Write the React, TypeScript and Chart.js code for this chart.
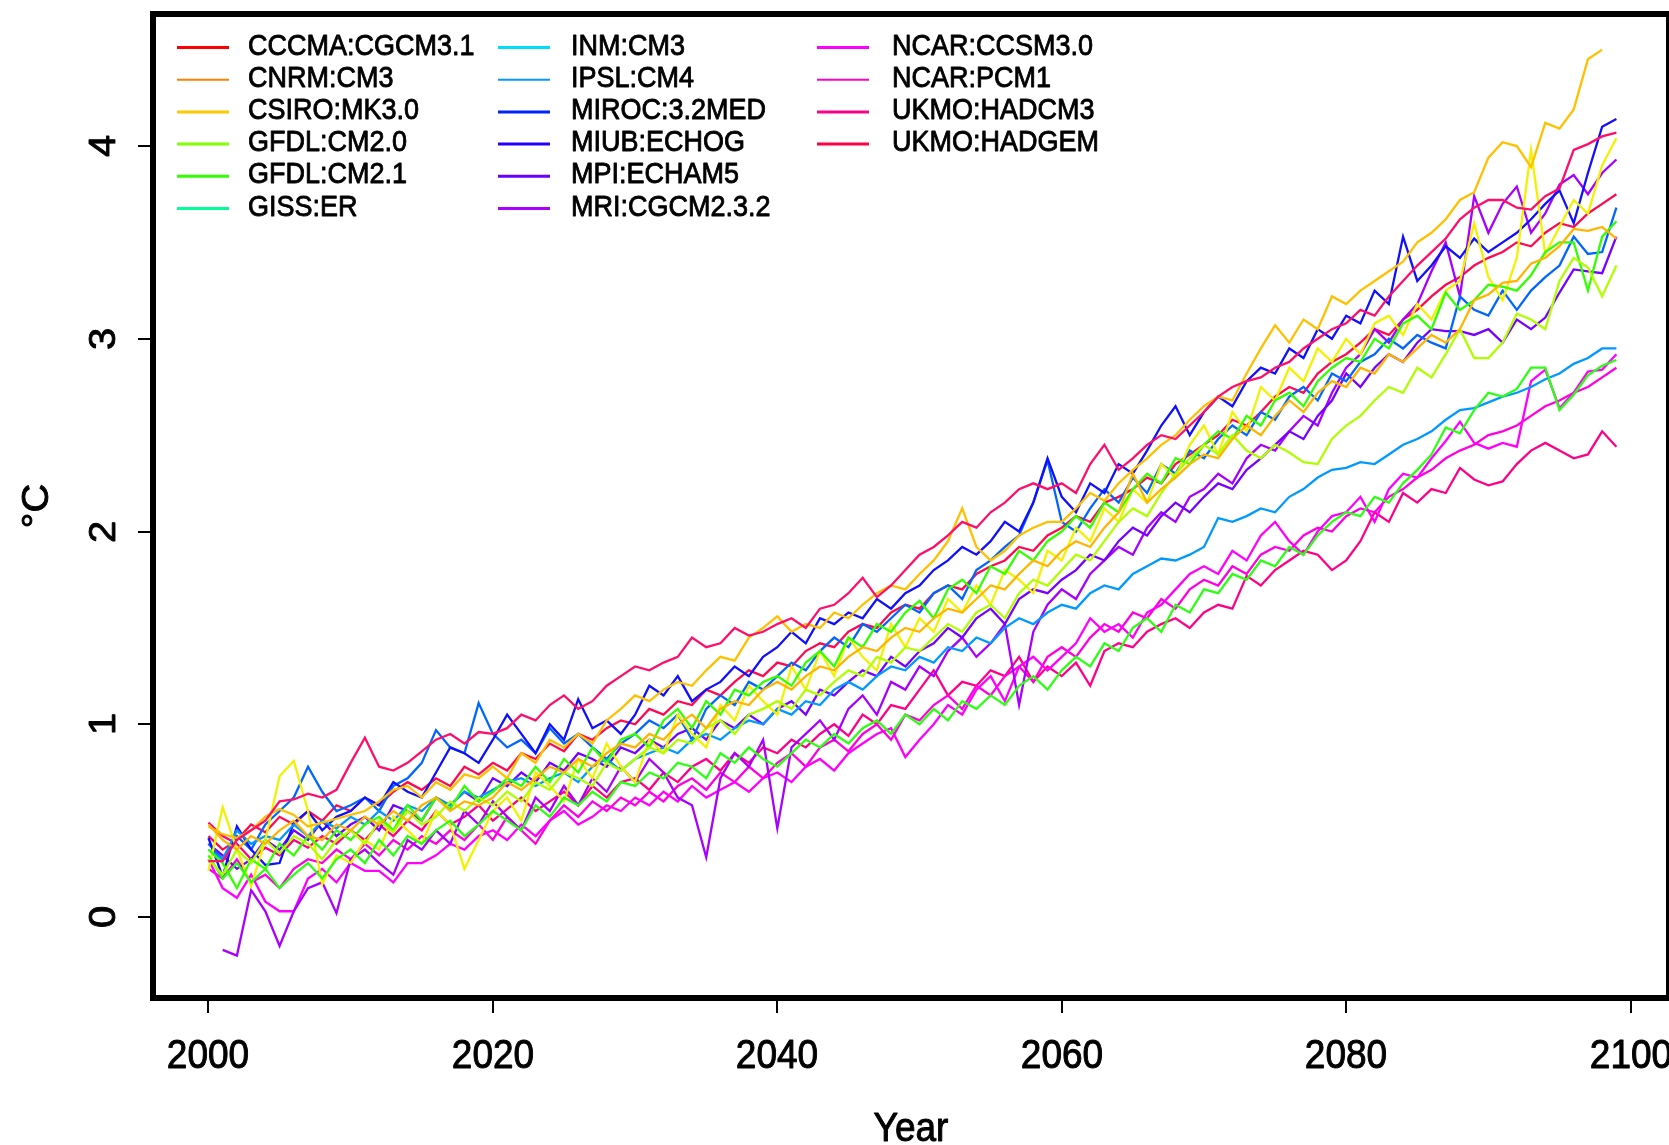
import React, { useEffect, useRef } from "react";
import { Chart, registerables } from "chart.js";

Chart.register(...registerables);

// Annual global-mean temperature change (°C) under the A2 scenario, 2000-2099
const YEARS = Array.from({ length: 100 }, (_, i) => 2000 + i);

const CCCMA_CGCM31 = [
  0.29, 0.29, 0.40, 0.45, 0.50, 0.60, 0.61, 0.64, 0.62, 0.66,
  0.80, 0.93, 0.78, 0.76, 0.80, 0.86, 0.92, 0.95, 0.90, 0.96,
  0.95, 0.98, 1.05, 1.02, 1.10, 1.15, 1.08, 1.12, 1.20, 1.25,
  1.30, 1.28, 1.32, 1.35, 1.45, 1.40, 1.42, 1.50, 1.46, 1.48,
  1.52, 1.55, 1.50, 1.60, 1.62, 1.68, 1.76, 1.66, 1.72, 1.80,
  1.88, 1.92, 1.98, 2.05, 2.02, 2.10, 2.15, 2.22, 2.25, 2.22,
  2.25, 2.20, 2.35, 2.45, 2.32, 2.38, 2.45, 2.50, 2.48, 2.55,
  2.62, 2.70, 2.75, 2.78, 2.80, 2.85, 2.88, 2.95, 3.00, 3.05,
  3.08, 3.15, 3.12, 3.22, 3.30, 3.38, 3.45, 3.52, 3.62, 3.68,
  3.72, 3.72, 3.68, 3.67, 3.74, 3.78, 3.98, 4.01, 4.05, 4.07,
];

const CNRM_CM3 = [
  0.48, 0.40, 0.35, 0.42, 0.38, 0.45, 0.50, 0.42, 0.40, 0.48,
  0.45, 0.52, 0.48, 0.55, 0.50, 0.58, 0.62, 0.55, 0.60, 0.58,
  0.62, 0.70, 0.66, 0.72, 0.78, 0.75, 0.82, 0.78, 0.85, 0.90,
  0.88, 0.95, 0.92, 1.00, 1.05, 0.98, 1.08, 1.12, 1.10, 1.18,
  1.22, 1.18, 1.25, 1.30, 1.28, 1.35, 1.40, 1.38, 1.45, 1.50,
  1.48, 1.55, 1.60, 1.58, 1.65, 1.72, 1.70, 1.78, 1.85, 1.82,
  1.90, 1.95, 1.92, 2.02, 2.10, 2.30, 2.15, 2.22, 2.28, 2.35,
  2.40, 2.38, 2.48, 2.55, 2.50, 2.60, 2.68, 2.62, 2.72, 2.78,
  2.75, 2.85, 2.82, 2.92, 2.88, 2.95, 3.02, 2.98, 3.05, 3.20,
  3.23, 3.29, 3.30, 3.39, 3.42, 3.48, 3.57, 3.56, 3.58, 3.52,
];

const CSIRO_MK30 = [
  0.47, 0.43, 0.41, 0.45, 0.52, 0.56, 0.53, 0.47, 0.49, 0.51,
  0.53, 0.55, 0.60, 0.66, 0.68, 0.62, 0.70, 0.66, 0.74, 0.72,
  0.78, 0.72, 0.85, 0.80, 0.92, 0.88, 0.95, 0.90, 1.02, 1.08,
  1.15, 1.12, 1.18, 1.22, 1.20, 1.28, 1.35, 1.33, 1.45, 1.50,
  1.56, 1.48, 1.52, 1.50, 1.58, 1.55, 1.62, 1.68, 1.72, 1.70,
  1.78, 1.85, 1.95, 2.12, 1.92, 1.85, 1.90, 1.98, 2.02, 2.05,
  2.05, 2.12, 2.20, 2.16, 2.25, 2.32, 2.38, 2.45, 2.50, 2.58,
  2.65, 2.70, 2.68, 2.82, 2.95, 3.07, 2.98, 3.10, 3.05, 3.22,
  3.18, 3.25, 3.30, 3.35, 3.40, 3.50, 3.55, 3.62, 3.72, 3.76,
  3.94, 4.02, 4.00, 3.89, 4.12, 4.09, 4.19, 4.45, 4.50, null,
];

const GFDL_CM20 = [
  0.30, 0.22, 0.35, 0.28, 0.40, 0.33, 0.42, 0.38, 0.30, 0.40,
  0.45, 0.38, 0.50, 0.44, 0.55, 0.48, 0.52, 0.60, 0.55, 0.62,
  0.58, 0.65, 0.60, 0.70, 0.66, 0.75, 0.72, 0.68, 0.80, 0.76,
  0.82, 0.88, 0.85, 0.92, 0.90, 0.98, 1.02, 0.95, 1.05, 1.08,
  1.12, 1.08, 1.18, 1.15, 1.22, 1.28, 1.25, 1.35, 1.32, 1.40,
  1.38, 1.45, 1.52, 1.48, 1.58, 1.62, 1.55, 1.68, 1.75, 1.72,
  1.80, 1.88, 1.85, 1.95, 2.05, 2.12, 2.08, 2.20, 2.30, 2.38,
  2.45, 2.40, 2.50, 2.42, 2.38, 2.45, 2.41, 2.36, 2.35, 2.48,
  2.55, 2.60, 2.68, 2.75, 2.72, 2.85, 2.80, 2.92, 3.05, 2.90,
  2.90, 2.98, 3.13, 3.10, 3.05, 3.30, 3.42, 3.37, 3.22, 3.38,
];

const GFDL_CM21 = [
  0.35, 0.28, 0.15, 0.30, 0.25, 0.38, 0.32, 0.42, 0.35, 0.45,
  0.40, 0.48, 0.52, 0.45, 0.58, 0.50, 0.62, 0.56, 0.68, 0.60,
  0.65, 0.72, 0.68, 0.78, 0.70, 0.82, 0.75, 0.88, 0.80, 0.92,
  0.95, 0.88, 1.02, 1.08, 0.98, 1.12, 1.05, 1.18, 1.15, 1.22,
  1.25, 1.20, 1.32, 1.38, 1.30, 1.45, 1.40, 1.52, 1.48, 1.58,
  1.64, 1.55, 1.70, 1.75, 1.68, 1.82, 1.78, 1.90, 1.85, 1.95,
  2.00, 2.08, 2.02, 2.15, 2.10, 2.22, 2.30, 2.25, 2.38, 2.35,
  2.45, 2.52, 2.48, 2.60, 2.55, 2.68, 2.72, 2.65, 2.78, 2.85,
  2.90, 2.88, 3.00, 2.95, 3.08, 3.12, 3.05, 3.24, 3.15, 3.20,
  3.28, 3.27, 3.25, 3.33, 3.45, 3.50, 3.50, 3.25, 3.53, 3.61,
];

const GISS_ER = [
  0.32, 0.20, 0.28, 0.18, 0.25, 0.15, 0.22, 0.28, 0.20, 0.30,
  0.35, 0.28, 0.40, 0.32, 0.42, 0.38, 0.45, 0.50, 0.42, 0.48,
  0.55, 0.50, 0.45, 0.58, 0.52, 0.62, 0.58, 0.65, 0.60, 0.70,
  0.68, 0.75, 0.72, 0.80, 0.78, 0.72, 0.85, 0.80, 0.88, 0.82,
  0.78, 0.85, 0.92, 0.88, 0.95, 0.90, 0.98, 1.02, 0.95, 1.05,
  1.00, 1.08, 1.02, 1.12, 1.08, 1.15, 1.10, 1.20, 1.25, 1.18,
  1.28, 1.35, 1.30, 1.42, 1.38, 1.50, 1.55, 1.48, 1.62, 1.58,
  1.70, 1.68, 1.78, 1.75, 1.85, 1.82, 1.92, 1.88, 1.98, 2.05,
  2.10, 2.08, 2.18, 2.15, 2.25, 2.32, 2.40, 2.54, 2.51, 2.63,
  2.72, 2.70, 2.74, 2.85, 2.85, 2.63, 2.71, 2.81, 2.86, 2.89,
];

const INM_CM3 = [
  0.24, 0.57, 0.35, 0.16, 0.40, 0.73, 0.81, 0.55, 0.17, 0.32,
  0.28, 0.40, 0.35, 0.52, 0.45, 0.38, 0.55, 0.48, 0.25, 0.40,
  0.55, 0.62, 0.50, 0.75, 0.68, 0.60, 0.82, 0.72, 0.90, 0.78,
  0.70, 0.92, 0.85, 1.05, 0.95, 0.88, 1.10, 1.02, 1.20, 1.12,
  1.05, 1.30, 1.18, 1.38, 1.25, 1.45, 1.35, 1.28, 1.52, 1.40,
  1.55, 1.48, 1.65, 1.58, 1.72, 1.62, 1.80, 1.75, 1.68, 1.90,
  1.85, 2.02, 1.95, 2.12, 2.05, 2.22, 2.15, 2.35, 2.28, 2.45,
  2.55, 2.40, 2.62, 2.52, 2.75, 2.68, 2.85, 2.78, 2.95, 2.88,
  3.00, 2.92, 3.08, 3.12, 3.02, 3.18, 3.10, 3.25, 3.30, 3.60,
  3.32, 3.20, 3.42, 3.98, 3.44, 3.58, 3.72, 3.65, 3.90, 4.04,
];

const IPSL_CM4 = [
  0.35, 0.30, 0.45, 0.38, 0.42, 0.40, 0.48, 0.42, 0.50, 0.46,
  0.52, 0.48, 0.55, 0.50, 0.58, 0.55, 0.62, 0.58, 0.65, 0.62,
  0.66, 0.70, 0.72, 0.68, 0.72, 0.75, 0.70, 0.78, 0.82, 0.76,
  0.82, 0.85, 0.88, 0.85, 0.92, 0.95, 0.92, 0.98, 1.02, 1.00,
  1.08, 1.05, 1.12, 1.10, 1.18, 1.22, 1.18, 1.25, 1.30, 1.28,
  1.35, 1.32, 1.40, 1.38, 1.45, 1.42, 1.50, 1.55, 1.52, 1.58,
  1.62, 1.60, 1.68, 1.72, 1.70, 1.78, 1.82, 1.86, 1.85, 1.88,
  1.92, 2.07, 2.05, 2.08, 2.12, 2.10, 2.18, 2.22, 2.28, 2.32,
  2.33, 2.36, 2.35, 2.40, 2.45, 2.48, 2.52, 2.58, 2.63, 2.64,
  2.67, 2.70, 2.72, 2.75, 2.79, 2.82, 2.87, 2.90, 2.95, 2.95,
];

const MIROC_32MED = [
  0.41, 0.21, 0.47, 0.35, 0.27, 0.28, 0.49, 0.55, 0.45, 0.52,
  0.55, 0.62, 0.58, 0.70, 0.65, 0.62, 0.75, 0.88, 0.85, 0.80,
  0.92, 1.05, 0.95, 0.85, 1.00, 0.92, 1.13, 0.98, 1.02, 0.95,
  1.05, 1.20, 1.15, 1.25, 1.12, 1.18, 1.22, 1.30, 1.25, 1.35,
  1.40, 1.48, 1.42, 1.55, 1.52, 1.58, 1.55, 1.65, 1.60, 1.68,
  1.72, 1.80, 1.85, 1.92, 1.88, 1.95, 2.05, 2.00, 2.15, 2.38,
  2.18, 2.10, 2.25, 2.20, 2.35, 2.30, 2.42, 2.55, 2.65, 2.50,
  2.62, 2.70, 2.65, 2.78, 2.85, 2.82, 2.95, 2.90, 3.05, 3.00,
  3.12, 3.08, 3.25, 3.18, 3.53, 3.30, 3.38, 3.48, 3.42, 3.52,
  3.45, 3.50, 3.55, 3.62, 3.70, 3.77, 3.60, 3.86, 4.10, 4.14,
];

const MIUB_ECHOG = [
  0.38, 0.30, 0.42, 0.35, 0.48, 0.55, 0.62, 0.78, 0.65, 0.55,
  0.58, 0.62, 0.55, 0.68, 0.72, 0.80, 0.97, 0.88, 0.85, 1.11,
  0.95, 0.88, 0.92, 0.85, 0.98, 0.90, 0.95, 0.88, 0.82, 0.90,
  0.95, 1.02, 0.98, 1.05, 0.92, 1.08, 1.15, 1.10, 1.22, 1.18,
  1.25, 1.32, 1.28, 1.38, 1.45, 1.40, 1.52, 1.48, 1.55, 1.62,
  1.58, 1.68, 1.72, 1.65, 1.80, 1.85, 1.92, 1.98, 2.15, 2.37,
  2.05, 2.00, 2.12, 2.22, 2.15, 2.28, 2.20, 2.35, 2.30, 2.42,
  2.38, 2.48, 2.55, 2.50, 2.62, 2.58, 2.70, 2.75, 2.68, 2.82,
  2.78, 2.88, 2.92, 3.00, 2.95, 3.02, 2.98, 2.95, 3.22, 3.15,
  3.12, 3.25, 3.15, 3.25, 3.32, 3.38, 3.53, 3.44, 3.45, 3.68,
];

const MPI_ECHAM5 = [
  0.38, 0.32, 0.25, 0.30, 0.40, 0.35, 0.45, 0.40, 0.50, 0.42,
  0.48, 0.52, 0.45, 0.58, 0.55, 0.50, 0.62, 0.58, 0.65, 0.60,
  0.72, 0.68, 0.75, 0.70, 0.80, 0.76, 0.85, 0.82, 0.78, 0.88,
  0.85, 0.92, 0.88, 0.95, 0.98, 0.92, 1.02, 0.98, 1.05, 1.00,
  1.08, 1.12, 1.05, 1.18, 1.15, 1.22, 1.28, 1.25, 1.35, 1.30,
  1.38, 1.42, 1.50, 1.45, 1.55, 1.60, 1.52, 1.65, 1.70, 1.68,
  1.75, 1.80, 1.88, 1.85, 1.95, 2.02, 1.98, 2.08, 2.15, 2.10,
  2.18, 2.25, 2.22, 2.32, 2.38, 2.45, 2.52, 2.48, 2.60, 2.68,
  2.82, 2.75, 2.85, 2.92, 2.88, 2.98, 3.05, 3.04, 3.04, 3.02,
  3.05, 2.98, 3.10, 3.05, 3.11, 3.24, 3.36, 3.35, 3.34, 3.53,
];

const MRI_CGCM232 = [
  null, -0.17, -0.20, 0.14, 0.03, -0.15, 0.03, 0.15, 0.18, 0.02,
  0.30, 0.35, 0.28, 0.22, 0.40, 0.35, 0.45, 0.38, 0.55, 0.48,
  0.60, 0.52, 0.45, 0.62, 0.55, 0.68, 0.58, 0.72, 0.65, 0.78,
  0.70, 0.82, 0.75, 0.62, 0.58, 0.31, 0.72, 0.85, 0.78, 0.92,
  0.46, 0.88, 0.95, 1.02, 0.92, 1.08, 1.15, 1.05, 1.22, 1.18,
  1.30, 1.25, 1.38, 1.45, 1.35, 1.42, 1.52, 1.10, 1.48, 1.62,
  1.70, 1.65, 1.78, 1.85, 1.92, 1.88, 2.02, 2.10, 2.05, 2.18,
  2.22, 2.30, 2.25, 2.38, 2.45, 2.42, 2.52, 2.60, 2.55, 2.72,
  2.85, 2.92, 3.05, 2.98, 3.10, 3.18, 3.35, 3.50, 3.22, 3.74,
  3.55, 3.70, 3.79, 3.55, 3.65, 3.80, 3.85, 3.75, 3.86, 3.93,
];

const NCAR_CCSM30 = [
  0.30, 0.15, 0.10, 0.22, 0.08, 0.03, 0.03, 0.20, 0.25, 0.18,
  0.28, 0.24, 0.24, 0.18, 0.28, 0.28, 0.32, 0.38, 0.35, 0.42,
  0.45, 0.40, 0.48, 0.42, 0.50, 0.55, 0.48, 0.52, 0.58, 0.55,
  0.62, 0.58, 0.65, 0.60, 0.68, 0.62, 0.66, 0.70, 0.65, 0.72,
  0.75, 0.70, 0.78, 0.82, 0.76, 0.85, 0.90, 0.95, 0.98, 0.83,
  0.92, 1.00, 1.10, 1.05, 1.18, 1.25, 1.12, 1.30, 1.35, 1.28,
  1.35, 1.42, 1.55, 1.48, 1.52, 1.45, 1.58, 1.62, 1.70, 1.78,
  1.82, 1.78, 1.90, 1.85, 1.98, 2.05, 1.95, 1.88, 2.00, 2.08,
  2.10, 2.18, 2.05, 2.22, 2.30, 2.28, 2.38, 2.47, 2.57, 2.46,
  2.43, 2.46, 2.44, 2.78, 2.84, 2.64, 2.72, 2.83, 2.84, 2.92,
];

const NCAR_PCM1 = [
  0.25, 0.20, 0.30, 0.18, 0.22, 0.15, 0.25, 0.30, 0.28, 0.35,
  0.30, 0.38, 0.32, 0.40, 0.35, 0.42, 0.38, 0.45, 0.40, 0.48,
  0.40, 0.52, 0.45, 0.38, 0.50, 0.58, 0.52, 0.60, 0.55, 0.62,
  0.58, 0.65, 0.60, 0.68, 0.72, 0.66, 0.75, 0.70, 0.78, 0.72,
  0.80, 0.85, 0.78, 0.88, 0.92, 0.86, 0.95, 1.00, 0.92, 1.05,
  1.02, 1.10, 1.15, 1.08, 1.20, 1.15, 1.25, 1.30, 1.22, 1.35,
  1.40, 1.35, 1.45, 1.52, 1.48, 1.58, 1.55, 1.65, 1.60, 1.70,
  1.75, 1.72, 1.82, 1.78, 1.88, 1.92, 1.90, 1.98, 2.02, 2.00,
  2.08, 2.12, 2.10, 2.18, 2.22, 2.28, 2.32, 2.38, 2.42, 2.45,
  2.50, 2.52, 2.55, 2.60, 2.65, 2.68, 2.72, 2.75, 2.80, 2.85,
];

const UKMO_HADCM3 = [
  0.49, 0.42, 0.38, 0.30, 0.36, 0.32, 0.40, 0.36, 0.42, 0.38,
  0.45, 0.40, 0.48, 0.42, 0.50, 0.45, 0.55, 0.48, 0.52, 0.58,
  0.50, 0.56, 0.62, 0.55, 0.60, 0.65, 0.58, 0.68, 0.62, 0.70,
  0.72, 0.66, 0.75, 0.70, 0.78, 0.82, 0.76, 0.85, 0.80, 0.88,
  0.85, 0.92, 0.88, 0.95, 1.00, 0.94, 1.05, 1.00, 1.10, 1.08,
  1.18, 1.28, 1.15, 1.22, 1.20, 1.28, 1.25, 1.35, 1.22, 1.30,
  1.25, 1.32, 1.20, 1.38, 1.42, 1.40, 1.48, 1.52, 1.55, 1.50,
  1.58, 1.62, 1.60, 1.77, 1.72, 1.80, 1.85, 1.90, 1.88, 1.80,
  1.85, 1.95, 2.10, 2.05, 2.20, 2.15, 2.22, 2.20, 2.33, 2.27,
  2.24, 2.26, 2.35, 2.42, 2.46, 2.42, 2.38, 2.40, 2.52, 2.44,
];

const UKMO_HADGEM = [
  0.42, 0.35, 0.40, 0.48, 0.44, 0.52, 0.48, 0.55, 0.50, 0.58,
  0.55, 0.62, 0.58, 0.65, 0.70, 0.66, 0.72, 0.68, 0.78, 0.74,
  0.80, 0.76, 0.85, 0.82, 0.90, 0.86, 0.95, 0.92, 0.98, 1.02,
  1.00, 1.08, 1.05, 1.12, 1.10, 1.18, 1.15, 1.22, 1.28, 1.25,
  1.32, 1.30, 1.38, 1.42, 1.40, 1.48, 1.52, 1.50, 1.58, 1.62,
  1.60, 1.68, 1.72, 1.70, 1.78, 1.82, 1.85, 1.92, 1.90, 1.98,
  2.02, 2.08, 2.05, 2.15, 2.18, 2.22, 2.28, 2.25, 2.35, 2.40,
  2.45, 2.50, 2.58, 2.55, 2.62, 2.70, 2.75, 2.72, 2.82, 2.88,
  2.92, 2.98, 3.05, 3.02, 3.10, 3.15, 3.22, 3.28, 3.32, 3.38,
  3.42, 3.45, 3.50, 3.48, 3.55, 3.60, 3.58, 3.65, 3.70, 3.75,
];

const MODEL_NAMES = [
  "CCCMA:CGCM3.1", "CNRM:CM3", "CSIRO:MK3.0", "GFDL:CM2.0", "GFDL:CM2.1", "GISS:ER",
  "INM:CM3", "IPSL:CM4", "MIROC:3.2MED", "MIUB:ECHOG", "MPI:ECHAM5", "MRI:CGCM2.3.2",
  "NCAR:CCSM3.0", "NCAR:PCM1", "UKMO:HADCM3", "UKMO:HADGEM",
];

const MODEL_SERIES = [
  CCCMA_CGCM31, CNRM_CM3, CSIRO_MK30, GFDL_CM20, GFDL_CM21, GISS_ER,
  INM_CM3, IPSL_CM4, MIROC_32MED, MIUB_ECHOG, MPI_ECHAM5, MRI_CGCM232,
  NCAR_CCSM30, NCAR_PCM1, UKMO_HADCM3, UKMO_HADGEM,
];

const LINE_COLORS = [
  "#FF0F6A", "#FFB400", "#FFC000", "#B0FF00", "#33FF00", "#2CFF14",
  "#F2F200", "#0099FF", "#1010FF", "#0066FF", "#7700FF", "#A800FF",
  "#FF00FF", "#FF00E0", "#FF0088", "#FF0A50",
];

const LEGEND_COLORS = [
  "#FF0000", "#FF8000", "#FFC800", "#7FFF00", "#33FF00", "#00FF99",
  "#00DDFF", "#0099FF", "#0022FF", "#2200FF", "#6600FF", "#AA00FF",
  "#FF00FF", "#FF00CC", "#FF0088", "#FF0044",
];

const X_TICKS = [2000, 2020, 2040, 2060, 2080, 2100];
const Y_TICKS = [0, 1, 2, 3, 4];
const X_TITLE = "Year";
const Y_TITLE = "°C";

const FONT = '"Liberation Sans", Arial, sans-serif';
const STRETCH = 1.08;

// filled text with a thin outline so the glyphs read a little heavier
function heavyText(ctx: CanvasRenderingContext2D, s: string, w: number) {
  ctx.lineWidth = w;
  ctx.strokeStyle = "#000";
  ctx.lineJoin = "round";
  ctx.strokeText(s, 0, 0);
  ctx.fillText(s, 0, 0);
}

const frameAndText = {
  id: "frameAndText",
  afterDraw(chart: any) {
    const ctx: CanvasRenderingContext2D = chart.ctx;
    const area = chart.chartArea;
    const xs = chart.scales.x;
    const ys = chart.scales.y;
    ctx.save();
    ctx.fillStyle = "#000";
    ctx.strokeStyle = "#000";

    // plot box
    ctx.lineWidth = 6;
    ctx.strokeRect(area.left, area.top, area.right - area.left, area.bottom - area.top);

    // x axis ticks and labels
    ctx.font = `37px ${FONT}`;
    ctx.textAlign = "center";
    ctx.textBaseline = "alphabetic";
    X_TICKS.forEach((t) => {
      const px = Math.round(xs.getPixelForValue(t));
      ctx.lineWidth = 2;
      ctx.strokeStyle = "#000";
      ctx.beginPath();
      ctx.moveTo(px, area.bottom + 3);
      ctx.lineTo(px, area.bottom + 15);
      ctx.stroke();
      ctx.save();
      ctx.translate(px, 1068);
      ctx.scale(1, STRETCH);
      heavyText(ctx, String(t), 0.9);
      ctx.restore();
    });

    // y axis ticks and rotated labels
    Y_TICKS.forEach((t) => {
      const py = Math.round(ys.getPixelForValue(t));
      ctx.lineWidth = 2;
      ctx.strokeStyle = "#000";
      ctx.beginPath();
      ctx.moveTo(area.left - 15, py);
      ctx.lineTo(area.left - 3, py);
      ctx.stroke();
      ctx.save();
      ctx.translate(115, py);
      ctx.scale(1, STRETCH);
      ctx.rotate(-Math.PI / 2);
      heavyText(ctx, String(t), 0.9);
      ctx.restore();
    });

    // axis titles
    ctx.save();
    ctx.translate((area.left + area.right) / 2, 1141);
    ctx.scale(1, STRETCH);
    heavyText(ctx, X_TITLE, 0.9);
    ctx.restore();

    ctx.save();
    ctx.translate(48, (area.top + area.bottom) / 2);
    ctx.scale(1, STRETCH);
    ctx.rotate(-Math.PI / 2);
    heavyText(ctx, Y_TITLE, 0.9);
    ctx.restore();

    // legend: three columns of six rows
    const lineX = [177, 498, 817];
    const textX = [248, 571, 892];
    ctx.font = `27px ${FONT}`;
    ctx.textAlign = "left";
    MODEL_NAMES.forEach((name, i) => {
      const col = Math.floor(i / 6);
      const row = i % 6;
      const y = 47.5 + 32.2 * row;
      ctx.strokeStyle = LEGEND_COLORS[i];
      ctx.lineWidth = row === 1 ? 2 : 3;
      ctx.beginPath();
      ctx.moveTo(lineX[col], y);
      ctx.lineTo(lineX[col] + 52, y);
      ctx.stroke();
      ctx.save();
      ctx.translate(textX[col], y + 7);
      ctx.scale(1, STRETCH);
      ctx.fillStyle = "#000";
      heavyText(ctx, name, 0.8);
      ctx.restore();
    });

    ctx.restore();
  },
};

export default function App() {
  const canvasRef = useRef<HTMLCanvasElement | null>(null);

  useEffect(() => {
    const canvas = canvasRef.current;
    if (!canvas) return;
    const datasets = MODEL_SERIES.map((series, i) => ({
      label: MODEL_NAMES[i],
      data: series.map((v, j) => ({ x: YEARS[j], y: v })),
      borderColor: LINE_COLORS[i],
      backgroundColor: LINE_COLORS[i],
      borderWidth: 2.3,
      pointRadius: 0,
      tension: 0,
      fill: false,
      spanGaps: false,
    }));
    const chart = new Chart(canvas, {
      type: "line",
      data: { datasets },
      options: {
        animation: false,
        responsive: false,
        devicePixelRatio: 1,
        layout: { padding: { left: 153, top: 14, right: 0, bottom: 147 } },
        scales: {
          x: { type: "linear", min: 1996.1, max: 2102.7, display: false },
          y: { type: "linear", min: -0.42, max: 4.685, display: false },
        },
        plugins: {
          legend: { display: false },
          tooltip: { enabled: false },
        },
      },
      plugins: [frameAndText],
    } as any);
    return () => chart.destroy();
  }, []);

  return (
    <div style={{ position: "absolute", left: 0, top: 0, width: 1669, height: 1145, background: "#fff" }}>
      <canvas ref={canvasRef} width={1669} height={1145} />
    </div>
  );
}
